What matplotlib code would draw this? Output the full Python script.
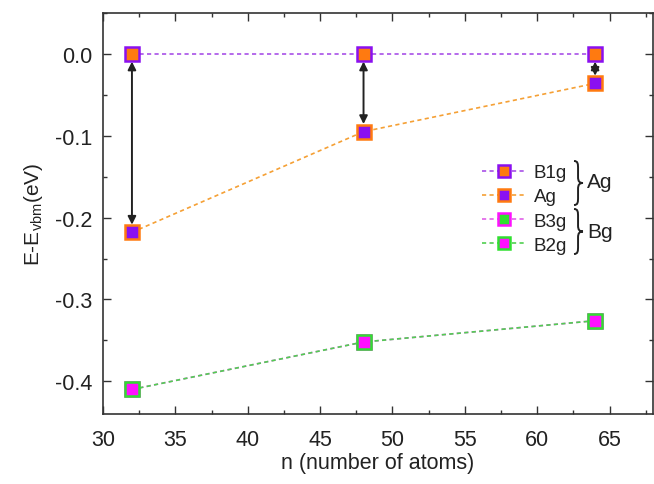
import numpy as np
import matplotlib.pyplot as plt
from matplotlib.path import Path
from matplotlib.patches import PathPatch

plt.rcParams['font.family'] = ['Liberation Sans', 'DejaVu Sans']

# data
n_atoms = [32, 48, 64]
b1g = [0.0, 0.0, 0.0]
ag = [-0.218, -0.095, -0.036]
b3g = [-0.410, -0.352, -0.326]
b2g = [-0.410, -0.352, -0.326]
x_ticks = [30, 35, 40, 45, 50, 55, 60, 65]
y_ticks = [0.0, -0.1, -0.2, -0.3, -0.4]

orange = '#FF7A10'
purple = '#8A10F0'
magenta = '#FF10FF'
green = '#30E030'

W, H = 654, 485
fig = plt.figure(figsize=(W / 100, H / 100), dpi=100)
ax = fig.add_axes([103 / W, 1 - 415 / H, 550 / W, 401 / H])

dash = (0, (2.5, 2))
ms = 10
mew = 1.8
ax.plot(n_atoms, b1g, ls=dash, lw=1.2, color='#A850E8', marker='s', ms=ms,
        mfc=orange, mec=purple, mew=mew, label='B1g', zorder=3)
ax.plot(n_atoms, ag, ls=dash, lw=1.2, color='#F5A035', marker='s', ms=ms,
        mfc=purple, mec=orange, mew=mew, label='Ag', zorder=3)
ax.plot(n_atoms, b3g, ls=dash, lw=1.2, color='#E060E8', marker='s', ms=ms,
        mfc=green, mec=magenta, mew=mew, label='B3g', zorder=3)
ax.plot(n_atoms, b2g, ls=dash, lw=1.2, color='#50D050', marker='s', ms=ms,
        mfc=magenta, mec=green, mew=mew, label='B2g', zorder=3)

# double arrows between B1g and Ag
for x, top, bot in zip(n_atoms, b1g, ag):
    ax.annotate('', xy=(x, bot), xytext=(x, top),
                arrowprops=dict(arrowstyle='<|-|>', color='#222222', lw=1.4,
                                shrinkA=5.5, shrinkB=5.5, mutation_scale=12),
                zorder=2)

ax.set_xlim(30, 68)
ax.set_ylim(-0.44, 0.05)
ax.set_xticks(x_ticks)
ax.set_yticks(y_ticks)
ax.set_xticks(np.arange(32.5, 68, 5), minor=True)
ax.set_yticks([0.05, -0.05, -0.15, -0.25, -0.35], minor=True)
ax.set_yticklabels(['%.1f' % v for v in y_ticks])
ax.tick_params(which='both', direction='in', top=True, right=True,
               labelsize=15.5, width=1, color='#333333', labelcolor='#222222')
ax.tick_params(which='major', length=6)
ax.tick_params(which='minor', length=3)
ax.tick_params(axis='x', which='major', pad=11)
ax.tick_params(axis='y', which='major', pad=8)
for s in ax.spines.values():
    s.set_color('#333333')
    s.set_linewidth(1.2)

ax.set_xlabel('n (number of atoms)', fontsize=15.5, labelpad=1, color='#222222')
ax.set_ylabel(r'E-E$_{\mathregular{vbm}}$(eV)', fontsize=15, labelpad=7,
              color='#222222')

leg = ax.legend(loc='upper left', bbox_to_anchor=(482 / W, 1 - 165 / H),
                bbox_transform=fig.transFigure, frameon=False, fontsize=13.5,
                handlelength=2.3, handletextpad=0.45, labelspacing=0.38,
                borderpad=0, borderaxespad=0, markerscale=0.85)
for t in leg.get_texts():
    t.set_color('#222222')


# curly braces grouping the legend entries (pixel coords, y down)
def brace(x0, ytop, ybot, w=9):
    ym = (ytop + ybot) / 2
    xb = x0 + w * 0.45
    xt = x0 + w
    pts = [(x0, ytop), (xb, ytop), (xb, ytop + 3), (xb, ytop + 8),
           (xb, ym - 6), (xb, ym - 1.5), (xb + 1.5, ym), (xt, ym),
           (xb + 1.5, ym), (xb, ym + 1.5), (xb, ym + 6),
           (xb, ybot - 8), (xb, ybot - 3), (xb, ybot), (x0, ybot)]
    codes = [Path.MOVETO, Path.CURVE4, Path.CURVE4, Path.CURVE4,
             Path.LINETO, Path.CURVE4, Path.CURVE4, Path.CURVE4,
             Path.CURVE4, Path.CURVE4, Path.CURVE4,
             Path.LINETO, Path.CURVE4, Path.CURVE4, Path.CURVE4]
    verts = [(x / W, 1 - y / H) for x, y in pts]
    fig.patches.append(PathPatch(Path(verts, codes), fill=False, lw=1.4,
                                 edgecolor='#222222',
                                 transform=fig.transFigure))


brace(574, 162, 206)
brace(574, 210, 255)
fig.text(587 / W, 1 - 183 / H, 'Ag', fontsize=15, va='center', ha='left',
         color='#222222')
fig.text(587 / W, 1 - 232 / H, 'Bg', fontsize=15, va='center', ha='left',
         color='#222222')

fig.savefig('out.png', dpi=100)
